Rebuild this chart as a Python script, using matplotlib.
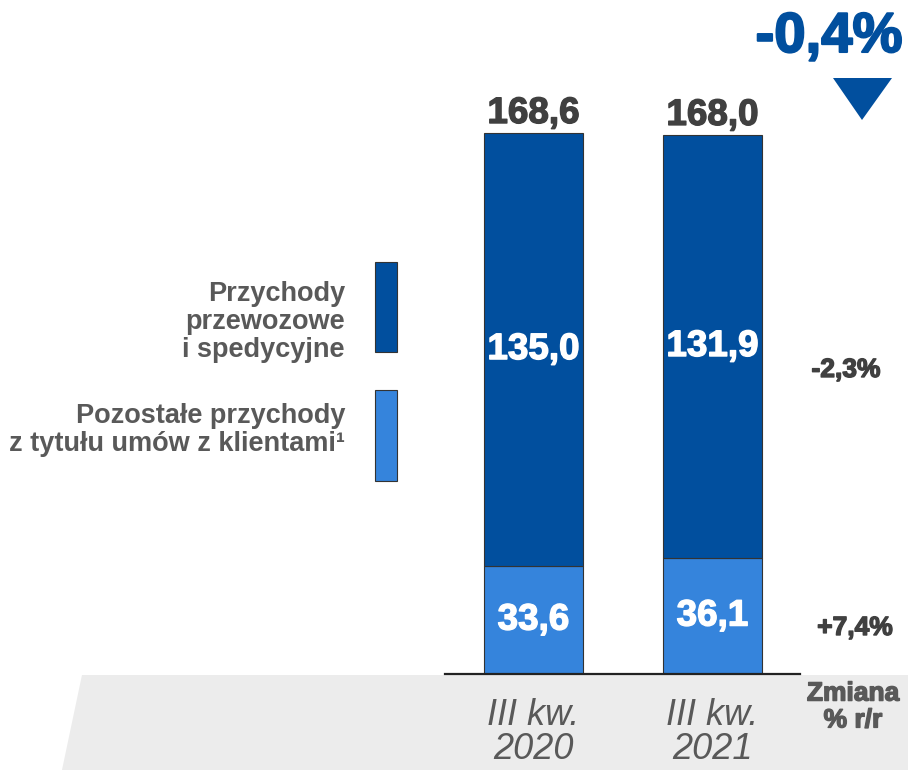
import matplotlib
matplotlib.use("Agg")
import matplotlib.pyplot as plt
from matplotlib.patches import Polygon, Rectangle
import matplotlib.patheffects as pe
import numpy as np

categories = ["III kw.\n2020", "III kw.\n2021"]
transport = [135.0, 131.9]
other = [33.6, 36.1]
totals = [168.6, 168.0]
transport_labels = ["135,0", "131,9"]
other_labels = ["33,6", "36,1"]
total_labels = ["168,6", "168,0"]
change_total = "-0,4%"
change_transport = "-2,3%"
change_other = "+7,4%"
legend_labels = ["Przychody\nprzewozowe\ni spedycyjne",
                 "Pozostałe przychody\nz tytułu umów z klientami¹"]

DARK = "#014f9e"
LIGHT = "#3584dc"
GRAY = "#595959"
DGRAY = "#404040"

plt.rcParams['font.family'] = ['Liberation Sans', 'DejaVu Sans']

W, H = 908, 770
fig = plt.figure(figsize=(W / 100, H / 100), dpi=100)


def fx(px):
    return px / W


def fy(py):
    return 1 - py / H


def heavy(color, lw=1.0):
    return [pe.withStroke(linewidth=lw, foreground=color)]


# gray band at the bottom
band = Polygon([[fx(82), fy(675)], [fx(W), fy(675)], [fx(W), fy(H)], [fx(62), fy(H)]],
               closed=True, transform=fig.transFigure, facecolor="#ececec",
               edgecolor="none", zorder=-5)
fig.patches.append(band)

# bar axes
ax_l, ax_r, ax_b = 445, 800, 674
ax = fig.add_axes([fx(ax_l), fy(ax_b), fx(ax_r - ax_l), ax_b / H], zorder=2)
ax.patch.set_alpha(0)
x = np.arange(len(categories))
spacing = 179.0
width = 99 / spacing
ax.set_xlim(-(533.5 - ax_l) / spacing, 1 + (ax_r - 712.5) / spacing)
ax.set_ylim(0, 674 / 3.209)

ax.bar(x, other, width, color=LIGHT, edgecolor="#333333", linewidth=0.8, zorder=2)
ax.bar(x, transport, width, bottom=other, color=DARK, edgecolor="#333333", linewidth=0.8, zorder=2)
ax.axhline(0, color="#222222", linewidth=1.6, zorder=3, clip_on=False)

for i in range(len(categories)):
    ax.text(x[i], other[i] / 2, other_labels[i], ha="center", va="center",
            color="white", fontsize=26.5, fontweight="bold", zorder=4,
            path_effects=heavy("white"))
    ax.text(x[i], other[i] + transport[i] / 2, transport_labels[i], ha="center", va="center",
            color="white", fontsize=26.5, fontweight="bold", zorder=4,
            path_effects=heavy("white"))
    ax.text(x[i], totals[i] + 3.1, total_labels[i], ha="center", va="baseline",
            color=DGRAY, fontsize=26.5, fontweight="bold", zorder=4,
            path_effects=heavy(DGRAY))

ax.set_xticks(x)
ax.set_xticklabels(categories, fontsize=26, style="italic", color=GRAY, linespacing=0.98)
ax.tick_params(axis="x", length=0, pad=17)
ax.set_yticks([])
for s in ax.spines.values():
    s.set_visible(False)

# change labels (right side)
fig.text(fx(846), fy(370), change_transport, ha="center", va="center",
         color=DGRAY, fontsize=19, fontweight="bold", path_effects=heavy(DGRAY, 1.0))
fig.text(fx(855), fy(628), change_other, ha="center", va="center",
         color=DGRAY, fontsize=19, fontweight="bold", path_effects=heavy(DGRAY, 1.0))
fig.text(fx(853), fy(707), "Zmiana\n% r/r", ha="center", va="center",
         color=GRAY, fontsize=19, fontweight="bold", linespacing=1.15,
         path_effects=heavy(GRAY, 1.0))

# total change
fig.text(fx(829), fy(38), change_total, ha="center", va="center",
         color=DARK, fontsize=40.5, fontweight="bold", path_effects=heavy(DARK, 1.5))
tri = Polygon([[fx(833), fy(78)], [fx(892), fy(78)], [fx(862), fy(120)]], closed=True,
              transform=fig.transFigure, facecolor=DARK, edgecolor="none")
fig.patches.append(tri)

# legend
fig.patches.append(Rectangle((fx(375), fy(352)), fx(22), (352 - 262) / H,
                             transform=fig.transFigure, facecolor=DARK,
                             edgecolor="#333333", linewidth=0.8))
fig.patches.append(Rectangle((fx(375), fy(481)), fx(22), (481 - 390) / H,
                             transform=fig.transFigure, facecolor=LIGHT,
                             edgecolor="#333333", linewidth=0.8))
fig.text(fx(345), fy(322), legend_labels[0], ha="right", va="center",
         color=GRAY, fontsize=19.5, fontweight="bold", linespacing=1.12)
fig.text(fx(345), fy(430), legend_labels[1], ha="right", va="center",
         color=GRAY, fontsize=19.5, fontweight="bold", linespacing=1.12)

fig.savefig("out.png", dpi=100)
